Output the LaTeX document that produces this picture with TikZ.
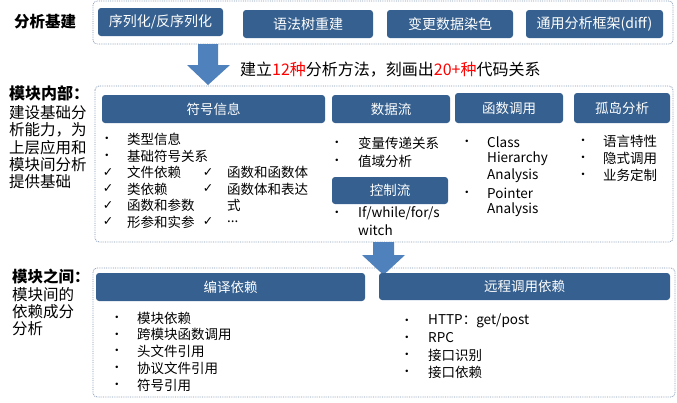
\documentclass[tikz,border=0pt]{standalone}
\usepackage{fontspec}
\setmainfont{Noto Sans CJK SC}
\newfontfamily\dingfont{DejaVu Sans}
\usetikzlibrary{positioning}
\definecolor{hdrblue}{HTML}{36608F}
\definecolor{arrowblue}{HTML}{4F81BD}
\definecolor{framegray}{HTML}{8095B2}
\definecolor{hilite}{HTML}{FF0000}
\tikzset{frame/.style={draw=framegray, densely dotted, line width=.8pt, rounded corners=4pt}, hdr/.style={fill=hdrblue, text=white, rounded corners=3pt, inner sep=0pt, font=\fontsize{13.5}{16}\selectfont}, item/.style={anchor=west, inner sep=0pt, font=\fontsize{13.5}{16}\selectfont}, bul/.style={inner sep=0pt, font=\dingfont\fontsize{8.5}{10}\selectfont}, chk/.style={inner sep=0pt, font=\dingfont\fontsize{12.5}{14}\selectfont}, side/.style={anchor=west, inner sep=0pt, font=\fontsize{15.5}{18}\selectfont}}

\begin{document}
\begin{tikzpicture}[x=1pt,y=-1pt]
\useasboundingbox (0,0) rectangle (677,402);
\draw[frame] (93,1) rectangle (673,44); \draw[frame] (95,86) rectangle (673,242); \draw[frame] (93,268) rectangle (675,397);
\node[side, anchor=center, font=\bfseries\fontsize{15.5}{18}\selectfont] (base) at (45,22) {分析基建};
\node[hdr, minimum width=125pt, minimum height=28pt, font=\fontsize{14}{16}\selectfont] (serial) at (160.5,22) {序列化/反序列化};
\node[hdr, minimum width=130pt, minimum height=28pt, font=\fontsize{14}{16}\selectfont] (ast) at (308,24) {语法树重建};
\node[hdr, minimum width=126pt, minimum height=28pt, font=\fontsize{14}{16}\selectfont] (taint) at (450,24) {变更数据染色};
\node[hdr, minimum width=137pt, minimum height=28pt, font=\fontsize{14}{16}\selectfont] (diff) at (594.5,24) {通用分析框架(diff)};
\fill[arrowblue] (198,44) -- (218,44) -- (218,65) -- (230,65) -- (208,85) -- (187,65) -- (198,65) -- cycle;
\node[side, font=\fontsize{16}{18}\selectfont] (method) at (240,70) {建立{\color{hilite}12种}分析方法，刻画出{\color{hilite}20+种}代码关系};
\node[side, font=\bfseries\fontsize{16}{18}\selectfont] (inner) at (9,93) {模块内部：};
\foreach \t [count=\i] in {建设基础分,析能力，为,上层应用和,模块间分析,提供基础} {\node[side] (inner\i) at (9,{113+17.2*(\i-1)}) {\t};}
\node[hdr, minimum width=223pt, minimum height=28pt] (symbol) at (213.5,109) {符号信息};
\node[hdr, minimum width=118pt, minimum height=28pt] (dataflow) at (391,109) {数据流};
\node[hdr, minimum width=108pt, minimum height=30pt] (calls) at (509,108) {函数调用};
\node[hdr, minimum width=96pt, minimum height=30pt] (island) at (622,108) {孤岛分析};
\node[hdr, minimum width=116pt, minimum height=27pt] (ctrlflow) at (390,190.5) {控制流};
\foreach \t/\y in {类型信息/139,基础符号关系/156} {\node[bul] (symdot\y) at (107,\y) {•}; \node[item] (sym\y) at (127,\y) {\t};}
\foreach \t/\y in {文件依赖/172.5,类依赖/189,函数和参数/205.5,形参和实参/222} {\node[chk] (symchk\y) at (108,\y) {✓}; \node[item] (sym\y) at (127,\y) {\t};}
\foreach \t/\y in {函数和函数体/172.5,函数体和表达/189} {\node[chk] (symchkb\y) at (208,\y) {✓}; \node[item] (symb\y) at (227,\y) {\t};}
\node[item] (symshi) at (227,205.5) {式}; \node[chk] (symchkdots) at (208,222) {✓}; \node[item] (symdots) at (227,222) {...};
\foreach \t/\y in {变量传递关系/143,值域分析/161} {\node[bul] (dfdot\y) at (337,\y) {•}; \node[item] (df\y) at (358,\y) {\t};}
\node[bul] (cfdot) at (337,213) {•}; \node[item] (cf1) at (358,213) {If/while/for/s}; \node[item] (cf2) at (358,230) {witch};
\foreach \t [count=\i] in {Class,Hierarchy,Analysis,Pointer,Analysis} {\node[item] (call\i) at (487,{142+17*(\i-1)}) {\t};}
\node[bul] (calldot1) at (467,142) {•}; \node[bul] (calldot2) at (467,193) {•};
\foreach \t [count=\i] in {语言特性,隐式调用,业务定制} {\node[bul] (isldot\i) at (583,{141+17*(\i-1)}) {•}; \node[item] (isl\i) at (603,{141+17*(\i-1)}) {\t};}
\fill[arrowblue] (373,242) -- (394,242) -- (394,255) -- (405,255) -- (383.5,275) -- (362,255) -- (373,255) -- cycle;
\node[side, font=\bfseries\fontsize{15.5}{18}\selectfont] (between) at (12,277) {模块之间：};
\foreach \t [count=\i] in {模块间的,依赖成分,分析} {\node[side] (between\i) at (12,{295+17*(\i-1)}) {\t};}
\node[hdr, minimum width=269pt, minimum height=28pt] (compile) at (230.5,287) {编译依赖};
\node[hdr, minimum width=291pt, minimum height=27pt] (remote) at (524.5,286.5) {远程调用依赖};
\foreach \t [count=\i] in {模块依赖,跨模块函数调用,头文件引用,协议文件引用,符号引用} {\node[bul] (cmpdot\i) at (117,{318+16.8*(\i-1)}) {•}; \node[item] (cmp\i) at (137,{318+16.8*(\i-1)}) {\t};}
\foreach \t [count=\i] in {HTTP：get/post,RPC,接口识别,接口依赖} {\node[bul] (rpcdot\i) at (407,{321+17*(\i-1)}) {•}; \node[item] (rpc\i) at (428,{321+17*(\i-1)}) {\t};}
\end{tikzpicture}
\end{document}
